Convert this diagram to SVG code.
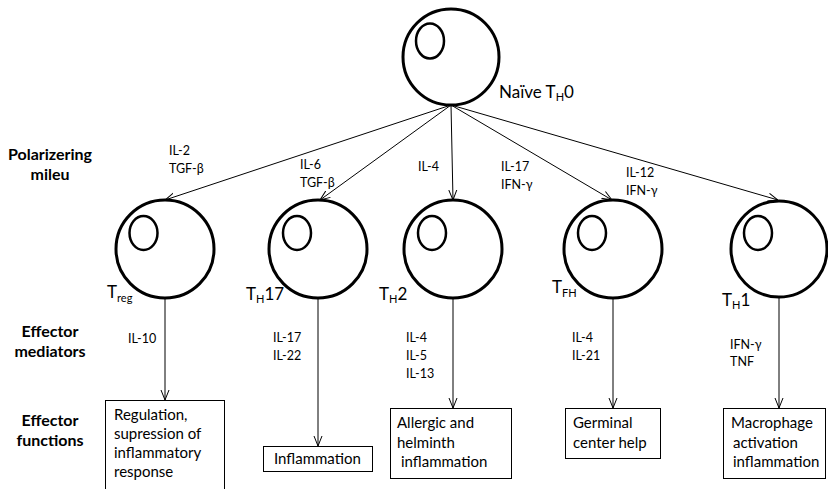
<svg xmlns="http://www.w3.org/2000/svg" width="828" height="489" viewBox="0 0 828 489">
<defs>
<style>
.cell{fill:#fff;stroke:#000;stroke-width:3}
.nuc{fill:none;stroke:#000;stroke-width:2.5}
.ln{fill:none;stroke:#000;stroke-width:1}
.box{fill:#fff;stroke:#000;stroke-width:1}
text{font-family:Lato,"Open Sans","Liberation Sans",sans-serif;fill:#000}
.sm{font-size:12.5px}
.bx{font-size:15px}
.hd{font-size:16px;font-weight:bold;text-anchor:middle}
.cl{font-size:17px}
.sub{font-size:11px}
</style>
<marker id="ah" viewBox="0 0 10 10" refX="10" refY="5" markerWidth="10" markerHeight="10" markerUnits="userSpaceOnUse" orient="auto">
<polyline points="0,1 10,5 0,9" fill="none" stroke="#000" stroke-width="1"/>
</marker>
</defs>
<rect width="828" height="489" fill="#fff"/>
<g id="connectors">
<line class="ln" x1="451" y1="105" x2="165" y2="200" marker-end="url(#ah)"/>
<line class="ln" x1="451" y1="105" x2="320" y2="200" marker-end="url(#ah)"/>
<line class="ln" x1="451" y1="105" x2="453" y2="200" marker-end="url(#ah)"/>
<line class="ln" x1="451" y1="105" x2="612" y2="200" marker-end="url(#ah)"/>
<line class="ln" x1="451" y1="105" x2="778" y2="200" marker-end="url(#ah)"/>
<line class="ln" x1="165" y1="298" x2="165" y2="400" marker-end="url(#ah)"/>
<line class="ln" x1="318" y1="298" x2="318" y2="446" marker-end="url(#ah)"/>
<line class="ln" x1="453" y1="298" x2="453" y2="408" marker-end="url(#ah)"/>
<line class="ln" x1="613" y1="298" x2="613" y2="408" marker-end="url(#ah)"/>
<line class="ln" x1="779" y1="297" x2="779" y2="408" marker-end="url(#ah)"/>
</g>
<g id="labels-left">
<text class="hd" x="50" y="160">Polarizering</text>
<text class="hd" x="50" y="180">mileu</text>
<text class="hd" x="50" y="337">Effector</text>
<text class="hd" x="50" y="357">mediators</text>
<text class="hd" x="50" y="426">Effector</text>
<text class="hd" x="50" y="446">functions</text>
</g>
<g id="polarizing-labels">
<text class="sm" x="169" y="155">IL-2</text>
<text class="sm" x="169" y="173">TGF-β</text>
<text class="sm" x="300" y="169">IL-6</text>
<text class="sm" x="300" y="187">TGF-β</text>
<text class="sm" x="418" y="171">IL-4</text>
<text class="sm" x="501" y="171">IL-17</text>
<text class="sm" x="501" y="189">IFN-γ</text>
<text class="sm" x="626" y="177">IL-12</text>
<text class="sm" x="626" y="195">IFN-γ</text>
</g>
<g id="naive">
<circle class="cell" cx="451" cy="57" r="48"/>
<ellipse class="nuc" cx="430" cy="41" rx="14" ry="17.5"/>
<text class="cl" x="499" y="98">Naïve T<tspan class="sub" dy="3">H</tspan><tspan dy="-3">0</tspan></text>
</g>
<g id="treg">
<circle class="cell" cx="165" cy="249" r="49"/>
<ellipse class="nuc" cx="143.5" cy="233" rx="14" ry="17"/>
<text class="cl" x="107" y="298">T<tspan class="sub" dy="4">reg</tspan></text>
</g>
<g id="th17">
<circle class="cell" cx="318" cy="249" r="49"/>
<ellipse class="nuc" cx="297" cy="233" rx="14" ry="17"/>
<text class="cl" x="246" y="300">T<tspan class="sub" dy="3">H</tspan><tspan dy="-3">17</tspan></text>
</g>
<g id="th2">
<circle class="cell" cx="453" cy="249" r="49"/>
<ellipse class="nuc" cx="432" cy="233" rx="14" ry="17"/>
<text class="cl" x="379" y="300">T<tspan class="sub" dy="3">H</tspan><tspan dy="-3">2</tspan></text>
</g>
<g id="tfh">
<circle class="cell" cx="613" cy="249" r="49"/>
<ellipse class="nuc" cx="592" cy="233" rx="14" ry="17"/>
<text class="cl" x="552" y="293">T<tspan class="sub" dy="4">FH</tspan></text>
</g>
<g id="th1">
<circle class="cell" cx="779" cy="249" r="48"/>
<ellipse class="nuc" cx="758" cy="233" rx="14" ry="17"/>
<text class="cl" x="722" y="306">T<tspan class="sub" dy="3">H</tspan><tspan dy="-3">1</tspan></text>
</g>
<g id="mediators">
<text class="sm" x="128" y="343">IL-10</text>
<text class="sm" x="273" y="342">IL-17</text>
<text class="sm" x="273" y="360">IL-22</text>
<text class="sm" x="406" y="342">IL-4</text>
<text class="sm" x="406" y="360">IL-5</text>
<text class="sm" x="406" y="378">IL-13</text>
<text class="sm" x="572" y="342">IL-4</text>
<text class="sm" x="572" y="360">IL-21</text>
<text class="sm" x="730" y="349">IFN-γ</text>
<text class="sm" x="730" y="366">TNF</text>
</g>
<g id="box-treg">
<rect class="box" x="105.5" y="400.5" width="119" height="95"/>
<text class="bx" x="114" y="420">Regulation,</text>
<text class="bx" x="114" y="439">supression of</text>
<text class="bx" x="114" y="458">inflammatory</text>
<text class="bx" x="114" y="477">response</text>
</g>
<g id="box-th17">
<rect class="box" x="263.5" y="446.5" width="109" height="25"/>
<text class="bx" x="274" y="464">Inflammation</text>
</g>
<g id="box-th2">
<rect class="box" x="390.5" y="408.5" width="121" height="70"/>
<text class="bx" x="397" y="428">Allergic and</text>
<text class="bx" x="397" y="448">helminth</text>
<text class="bx" x="401" y="467">inflammation</text>
</g>
<g id="box-tfh">
<rect class="box" x="565.5" y="408.5" width="95" height="50"/>
<text class="bx" x="573" y="428">Germinal</text>
<text class="bx" x="573" y="448">center help</text>
</g>
<g id="box-th1">
<rect class="box" x="723.5" y="408.5" width="102" height="70"/>
<text class="bx" x="731" y="428">Macrophage</text>
<text class="bx" x="733" y="448">activation</text>
<text class="bx" x="733" y="467">inflammation</text>
</g>
</svg>
